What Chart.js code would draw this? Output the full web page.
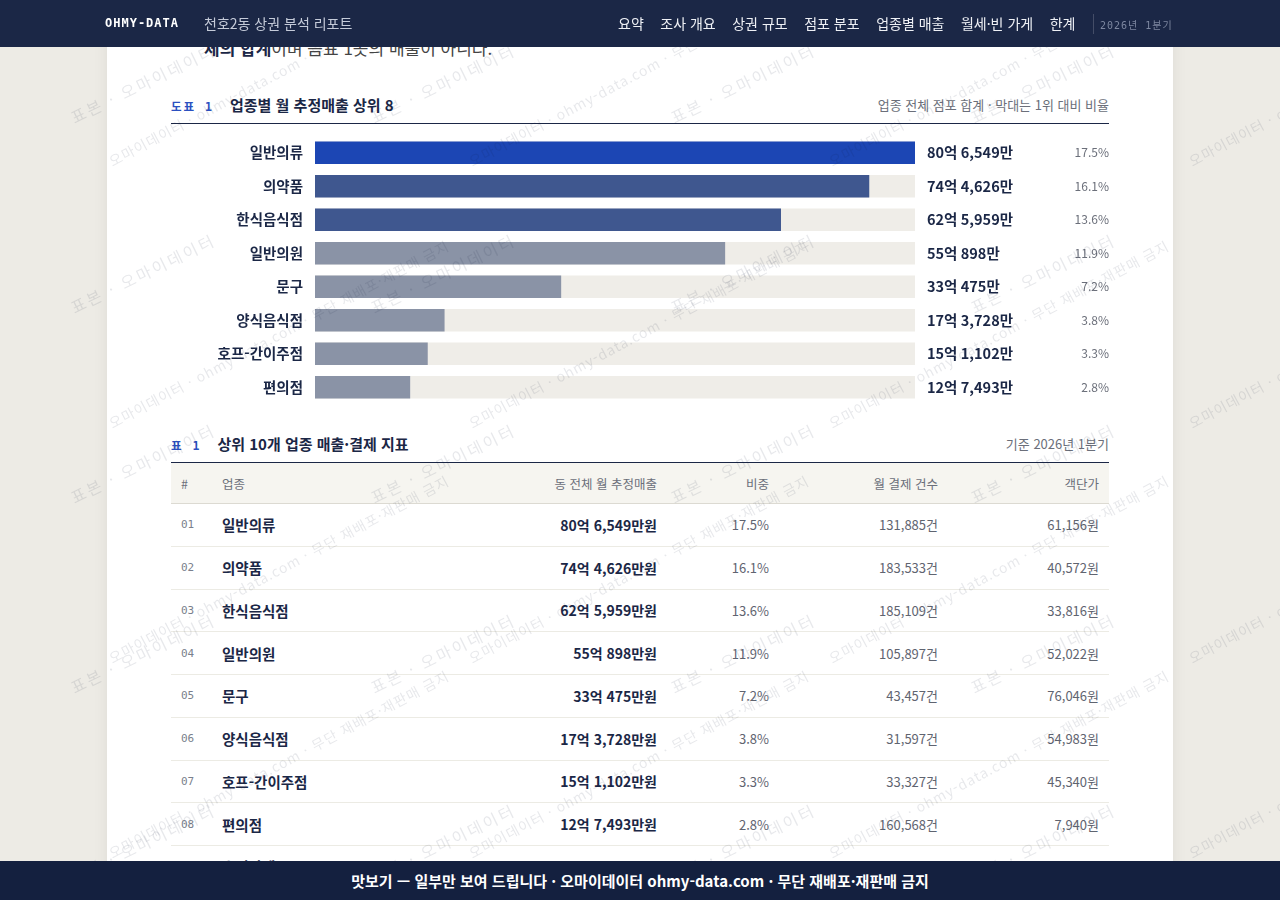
<!DOCTYPE html>
<html lang="ko">
<head>
<meta charset="UTF-8">
<title>천호2동 상권 분석 리포트</title>
<script src="https://cdn.jsdelivr.net/npm/chart.js@4.4.1/dist/chart.umd.min.js"></script>
<style>
    html, body { margin: 0; padding: 0; }
    body {
        width: 1280px; height: 900px; overflow: hidden;
        background: #edebe5;
        font-family: "Noto Sans CJK KR", "Noto Sans", sans-serif;
        color: #1b2746;
        position: relative;
    }
    .top {
        position: fixed; left: 0; top: 0; width: 1280px; height: 47px;
        background: #1b2746; z-index: 10;
    }
    .top .inner { position: absolute; left: 105px; top: 0; width: 1068px; height: 47px; overflow: hidden; }
    .brand {
        position: absolute; left: 0; top: 16px;
        font: bold 12px "DejaVu Sans Mono", monospace; letter-spacing: 1px; color: #fff;
    }
    .sub { position: absolute; left: 99px; top: 13px; font-size: 14px; color: #c5cbd9; line-height: 20px; }
    .nav { position: absolute; left: 513px; top: 13px; display: flex; gap: 16.5px; font-size: 14px; line-height: 20px; color: #eef0f5; white-space: nowrap; }
    .sep { position: absolute; left: 988px; top: 14px; width: 1px; height: 20px; background: rgba(255,255,255,0.18); }
    .qtr { position: absolute; left: 995px; top: 17px; font: 10px "DejaVu Sans Mono", "Noto Sans CJK KR", monospace; letter-spacing: 1px; color: #7d87a0; white-space: nowrap; }

    .card {
        position: absolute; left: 107px; top: 0; width: 1066px; height: 1000px;
        background: #fff; box-shadow: 0 0 14px rgba(0,0,0,0.07);
    }
    .para { position: absolute; left: 97px; top: 36px; font-size: 17px; line-height: 24px; color: #444; white-space: nowrap; }
    .para b { color: #1b2746; }
    .head {
        position: absolute; left: 64px; width: 938px; height: 20px;
        padding-bottom: 9px; border-bottom: 1px solid #1b2746;
        display: flex; justify-content: space-between; align-items: center;
    }
    .head .no { font: 600 11.5px "DejaVu Sans Mono", "Noto Sans CJK KR", monospace; letter-spacing: 2px; color: #2b50c0; margin-right: 16px; }
    .head .ttl { font-weight: bold; font-size: 15px; color: #1b2746; }
    .head .note { font-size: 13px; color: #6b6f7a; }
    #chartBox { position: absolute; left: 64px; top: 136px; width: 938px; height: 268px; }

    table { position: absolute; left: 64px; top: 463px; width: 938px; border-collapse: collapse; table-layout: fixed; }
    th {
        height: 40px; padding: 0 10px; background: #f6f5f0; border-bottom: 1px solid #dcdad2;
        font-size: 12.5px; font-weight: normal; color: #6b6f7a; text-align: right;
    }
    td { height: 41.75px; padding: 0 10px; border-bottom: 1px solid #ecebe4; font-size: 13px; color: #5f6470; text-align: right; white-space: nowrap; }
    th.l, td.l { text-align: left; }
    td.no { font: 11px "DejaVu Sans Mono", monospace; color: #7a7f8c; }
    td.nm { font-weight: bold; font-size: 14.5px; color: #1b2746; }
    td.sl { font-weight: bold; font-size: 14px; color: #1b2746; }

    .wm { position: fixed; left: 0; top: 0; width: 1280px; height: 900px; overflow: hidden; pointer-events: none; z-index: 5; }
    .wm span { position: absolute; white-space: nowrap; line-height: 1; color: rgba(20,30,60,0.10); transform-origin: 0 100%; }
    .wm .a { font-size: 16px; letter-spacing: 2.5px; transform: rotate(-26deg); }
    .wm .b { font-size: 14px; letter-spacing: 1px; transform: rotate(-28deg); }

    .foot {
        position: fixed; left: 0; bottom: 0; width: 1280px; height: 39px; z-index: 10;
        background: #14203f; color: #fff; font-weight: bold; font-size: 15px;
        text-align: center; line-height: 39px;
    }
</style>
</head>
<body>

<div class="top">
    <div class="inner">
        <div class="brand">OHMY-DATA</div>
        <div class="sub">천호2동 상권 분석 리포트</div>
        <div class="nav">
            <span>요약</span><span>조사 개요</span><span>상권 규모</span><span>점포 분포</span><span>업종별 매출</span><span>월세·빈 가게</span><span>한계</span>
        </div>
        <div class="sep"></div>
        <div class="qtr">2026년 1분기</div>
    </div>
</div>

<div class="card">
    <div class="para"><b>체의 합계</b>이며 음표 1곳의 매출이 아니다.</div>

    <div class="head" style="top:94px;">
        <div><span class="no">도표 1</span><span class="ttl">업종별 월 추정매출 상위 8</span></div>
        <div class="note">업종 전체 점포 합계 · 막대는 1위 대비 비율</div>
    </div>
    <div id="chartBox"><canvas id="salesChart"></canvas></div>

    <div class="head" style="top:433px;">
        <div><span class="no">표 1</span><span class="ttl">상위 10개 업종 매출·결제 지표</span></div>
        <div class="note">기준 2026년 1분기</div>
    </div>
    <table id="salesTable">
        <colgroup>
            <col style="width:41px"><col style="width:235px"><col style="width:220px">
            <col style="width:112px"><col style="width:169px"><col style="width:161px">
        </colgroup>
        <thead>
            <tr><th class="l">#</th><th class="l">업종</th><th>동 전체 월 추정매출</th><th>비중</th><th>월 결제 건수</th><th>객단가</th></tr>
        </thead>
        <tbody></tbody>
    </table>
</div>

<div class="wm" id="wm"></div>

<div class="foot">맛보기 — 일부만 보여 드립니다 · 오마이데이터 ohmy-data.com · 무단 재배포·재판매 금지</div>

<script>
    // 업종별 월 추정매출 (단위: 만원)
    var categories = ['일반의류', '의약품', '한식음식점', '일반의원', '문구', '양식음식점', '호프-간이주점', '편의점', '슈퍼마켓'];
    var sales = [806549, 744626, 625959, 550898, 330475, 173728, 151102, 127493, 112040];
    var shares = [17.5, 16.1, 13.6, 11.9, 7.2, 3.8, 3.3, 2.8, 2.4];
    var payCounts = [131885, 183533, 185109, 105897, 43457, 31597, 33327, 160568, 52310];
    var unitPrices = [61156, 40572, 33816, 52022, 76046, 54983, 45340, 7940, 21418];

    var TOP_N = 8;
    var barColors = ['#1c46b4', '#3f578f', '#3f578f', '#8a93a6', '#8a93a6', '#8a93a6', '#8a93a6', '#8a93a6'];

    // 만원 -> "80억 6,549만"
    function fmtMan(v) {
        var eok = Math.floor(v / 10000), man = v % 10000;
        return eok + '억 ' + man.toLocaleString('en-US') + '만';
    }

    var topLabels = categories.slice(0, TOP_N);
    var topSales = sales.slice(0, TOP_N);
    var maxSale = Math.max.apply(null, topSales);

    Chart.defaults.font.family = '"Noto Sans CJK KR", "Noto Sans", sans-serif';

    // 막대 오른쪽 금액, 비중 텍스트
    var sideLabels = {
        id: 'sideLabels',
        afterDatasetsDraw: function (chart) {
            var ctx = chart.ctx;
            var area = chart.chartArea;
            var meta = chart.getDatasetMeta(1);
            ctx.save();
            ctx.textBaseline = 'middle';
            meta.data.forEach(function (bar, i) {
                ctx.font = 'bold 14.5px "Noto Sans CJK KR"';
                ctx.fillStyle = '#1b2746';
                ctx.textAlign = 'left';
                ctx.fillText(fmtMan(topSales[i]), area.right + 12, bar.y);
                ctx.font = '12px "Noto Sans CJK KR"';
                ctx.fillStyle = '#6b6f7a';
                ctx.textAlign = 'right';
                ctx.fillText(shares[i].toFixed(1) + '%', chart.width, bar.y);
            });
            ctx.restore();
        }
    };

    new Chart(document.getElementById('salesChart'), {
        type: 'bar',
        data: {
            labels: topLabels,
            datasets: [
                {
                    // 배경 트랙
                    data: topLabels.map(function () { return maxSale; }),
                    backgroundColor: '#efede8',
                    order: 2
                },
                {
                    data: topSales,
                    backgroundColor: barColors,
                    order: 1
                }
            ]
        },
        options: {
            indexAxis: 'y',
            maintainAspectRatio: false,
            animation: false,
            events: [],
            layout: { padding: { left: 0, right: 194, top: 0, bottom: 0 } },
            datasets: { bar: { grouped: false, barThickness: 22, borderWidth: 0 } },
            plugins: { legend: { display: false }, tooltip: { enabled: false } },
            scales: {
                x: { display: false, min: 0, max: maxSale },
                y: {
                    grid: { display: false, drawTicks: false },
                    border: { display: false },
                    ticks: { padding: 12, color: '#1b2746', font: { size: 14.5, weight: 'bold' } },
                    afterFit: function (scale) {
                        scale.width = 144;
                        // 라벨 때문에 생기는 위아래 여백 제거
                        scale.paddingTop = 0;
                        scale.paddingBottom = 0;
                    }
                }
            }
        },
        plugins: [sideLabels]
    });

    // 표 채우기
    var tbody = document.querySelector('#salesTable tbody');
    for (var i = 0; i < categories.length; i++) {
        var tr = document.createElement('tr');
        tr.innerHTML =
            '<td class="l no">' + (i < 9 ? '0' : '') + (i + 1) + '</td>' +
            '<td class="l nm">' + categories[i] + '</td>' +
            '<td class="sl">' + fmtMan(sales[i]) + '원</td>' +
            '<td>' + shares[i].toFixed(1) + '%</td>' +
            '<td>' + payCounts[i].toLocaleString('en-US') + '건</td>' +
            '<td>' + unitPrices[i].toLocaleString('en-US') + '원</td>';
        tbody.appendChild(tr);
    }

    // 워터마크
    var wm = document.getElementById('wm');
    function stamp(cls, text, x, y, size) {
        var s = document.createElement('span');
        s.className = cls;
        s.textContent = text;
        s.style.left = x + 'px';
        s.style.top = (y - size) + 'px';
        wm.appendChild(s);
    }
    [125, 315, 505, 695, 885].forEach(function (y) {
        [75, 375, 675, 975].forEach(function (x) { stamp('a', '표본 · 오마이데이터', x, y, 16); });
    });
    [168, 430, 665, 860].forEach(function (y) {
        [113, 473, 833, 1193].forEach(function (x) { stamp('b', '오마이데이터 · ohmy-data.com · 무단 재배포·재판매 금지', x, y, 14); });
    });
</script>
</body>
</html>
